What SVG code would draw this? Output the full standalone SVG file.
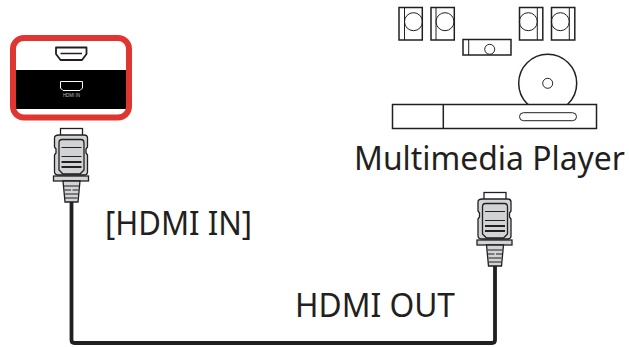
<svg xmlns="http://www.w3.org/2000/svg" width="629" height="347" viewBox="0 0 629 347">
<style>
.lbl{font-family:"Noto Sans","Open Sans","Liberation Sans",sans-serif;font-size:32px;fill:#231f20}
.eq{fill:#fff;stroke:#231f20;stroke-width:1.5}
.thin{fill:none;stroke:#231f20;stroke-width:1}
.pl{stroke:#231f20;stroke-width:1.300;fill:#fff}
.pg{stroke:#231f20;stroke-width:1.300;fill:#d1d3d4}
.bar{stroke:#231f20;stroke-width:1.200;fill:none}
.bar2{stroke:#231f20;stroke-width:1.800;fill:none}
</style>
<defs>
<g id="plug">
<rect class="pl" x="60.500" y="128.500" width="22" height="8"/>
<path class="pg" d="M59 135H84Q87.500 135 87.500 138V147L86 149V153L87.500 155V172Q87.500 175 84 175H59Q54.500 175 54.500 172V155L56 153V149L54.500 147V138Q54.500 135 59 135Z"/>
<path class="pg" d="M62 139.500H81Q84 139.500 84 143V170L80 174H63L59 170V143Q59 139.500 62 139.500Z"/>
<path class="bar" d="M61.500 147.500H81.500M61.500 156.500H81.500"/>
<path class="bar2" d="M61.500 162H81.500M61.500 167H81.500"/>
<rect class="pg" x="53.500" y="176" width="35" height="5"/>
<path class="pg" d="M63 181H80L78 202H65Z"/>
<path class="bar" d="M64 186H79M64.500 190H71M72.500 190H78.500M65 194H78M65 198H77.500"/>
</g>
</defs>
<g id="connectors">
<path d="M71.500 200V340Q71.500 343 74.500 343H492Q495 343 495 340V262" fill="none" stroke="#231f20" stroke-width="3.800"/>
</g>
<g id="hdmi-in-panel">
<rect x="16" y="70" width="110" height="39" fill="#000"/>
<rect x="13" y="38" width="116" height="79.500" rx="11" fill="none" stroke="#e03632" stroke-width="6"/>
<path d="M56 47.500H86.500V54L82 60H60.500L56 54Z" fill="none" stroke="#231f20" stroke-width="1.800" stroke-linejoin="round"/>
<path d="M60.500 53.500H82" stroke="#231f20" stroke-width="1.500"/>
<path d="M60.500 81.500H82.500V88L80 90.500H63L60.500 88Z" fill="none" stroke="#fff" stroke-width="1"/>
<text x="71.500" y="97" text-anchor="middle" font-family="Liberation Sans,sans-serif" font-size="4.500" fill="#bbb">HDMI IN</text>
</g>
<g id="plug-left"><use href="#plug"/></g>
<g id="plug-right"><use href="#plug" x="423.500" y="64"/></g>
<g id="media">
<rect class="eq" x="399" y="7.500" width="23.300" height="32.500"/><path class="thin" d="M404.500 7.500V40"/><circle class="thin" cx="413.500" cy="21.700" r="9"/>
<rect class="eq" x="431" y="7.500" width="23.300" height="32.500"/><path class="thin" d="M436 7.500V40"/><circle class="thin" cx="445" cy="21.700" r="9"/>
<rect class="eq" x="519.500" y="7.500" width="23.300" height="32.500"/><path class="thin" d="M537.300 7.500V40"/><circle class="thin" cx="528.300" cy="21.700" r="9"/>
<rect class="eq" x="551.500" y="7.500" width="23.300" height="32.500"/><path class="thin" d="M569.300 7.500V40"/><circle class="thin" cx="560.300" cy="21.700" r="9"/>
<rect class="eq" x="463" y="39.500" width="48" height="15.500"/><path class="thin" d="M468.700 39.500V55"/><circle class="thin" cx="489.700" cy="49.300" r="5"/>
<circle class="eq" cx="547.700" cy="83.300" r="29"/><circle class="thin" cx="547.700" cy="83.300" r="5"/>
<rect class="eq" x="392.500" y="104.500" width="204" height="24"/><path class="eq" d="M443.300 104.500V128.500"/>
<rect class="thin" x="519.500" y="112.700" width="57" height="8" rx="4"/>
</g>
<text class="lbl" x="354" y="170" textLength="271" lengthAdjust="spacingAndGlyphs">Multimedia Player</text>
<text class="lbl" x="105" y="235" textLength="147" lengthAdjust="spacingAndGlyphs">[HDMI IN]</text>
<text class="lbl" x="295" y="317" textLength="160" lengthAdjust="spacingAndGlyphs">HDMI OUT</text>
</svg>
